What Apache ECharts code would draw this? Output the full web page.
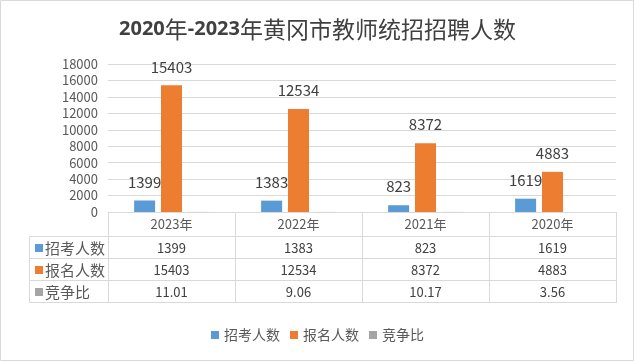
<!DOCTYPE html>
<html><head><meta charset="utf-8">
<script src="https://cdn.jsdelivr.net/npm/echarts@6/dist/echarts.min.js"></script>
<style>html,body{margin:0;padding:0;background:#fff}#c{width:635px;height:362px}</style>
</head><body><div id="c"></div>
<script>
const categories = ['2023年', '2022年', '2021年', '2020年'];
const recruitCount = [1399, 1383, 823, 1619];
const applicantCount = [15403, 12534, 8372, 4883];
const competitionRatio = [11.01, 9.06, 10.17, 3.56];
const seriesNames = ['招考人数', '报名人数', '竞争比'];
const colors = ['#5b9bd5', '#ed7d31', '#a5a5a5'];

const FONT = '"Noto Sans CJK SC", "Noto Sans", sans-serif';
const gridC = '#d9d9d9';
const rowY = [248, 270, 292];
const rowLines = [236.5, 258.5, 280.5, 302.5];
const tableLeft = 29.5, tableRight = 616.5;

function tableAxis(values, margin) {
  return {
    type: 'category', gridIndex: 0, position: 'bottom', data: values,
    axisLine: {show: false}, axisTick: {show: false}, splitLine: {show: false},
    axisLabel: {interval: 0, margin: margin, verticalAlign: 'middle', color: '#404040', fontSize: 13, fontFamily: FONT}
  };
}

const graphics = [
  {type: 'rect', shape: {x: 0.5, y: 0.5, width: 633, height: 360}, style: {fill: 'none', stroke: gridC, lineWidth: 1}, silent: true}
];
rowLines.forEach(y => graphics.push({type: 'line', shape: {x1: tableLeft, y1: y, x2: tableRight, y2: y}, style: {stroke: gridC, lineWidth: 1}, silent: true}));
graphics.push({type: 'line', shape: {x1: tableLeft, y1: rowLines[0], x2: tableLeft, y2: rowLines[3]}, style: {stroke: gridC, lineWidth: 1}, silent: true});
seriesNames.forEach((n, i) => {
  graphics.push({type: 'rect', shape: {x: 35, y: rowY[i] - 4, width: 8, height: 8}, style: {fill: colors[i]}, silent: true});
  graphics.push({type: 'text', x: 45, y: rowY[i], style: {text: n, fill: '#595959', font: '15px ' + FONT, textVerticalAlign: 'middle'}, silent: true});
});

const chart = echarts.init(document.getElementById('c'));
chart.setOption({
  animation: false,
  color: colors,
  title: {text: '{b|2020}{n|年}{b|-2023}{n|年黄冈市教师统招招聘人数}', left: 'center', top: 13,
    textStyle: {color: '#404040', fontFamily: FONT,
      rich: {
        b: {fontSize: 20, fontWeight: 'bold', color: '#404040', fontFamily: '"Noto Sans", sans-serif'},
        n: {fontSize: 23, fontWeight: 'normal', color: '#404040', fontFamily: FONT}
      }}},
  legend: {bottom: 15, left: 'center', icon: 'rect', itemWidth: 8, itemHeight: 8, itemGap: 10,
    textStyle: {fontSize: 14, color: '#595959', fontFamily: FONT}, data: seriesNames},
  grid: {left: 108, right: 19, top: 64, bottom: 150, containLabel: false},
  xAxis: [
    {type: 'category', data: categories, position: 'bottom',
      axisLine: {show: true, lineStyle: {color: gridC}},
      axisTick: {show: true, length: 91, lineStyle: {color: gridC}},
      axisLabel: {interval: 0, margin: 12, verticalAlign: 'middle', color: '#595959', fontSize: 13, fontFamily: FONT}},
    tableAxis(recruitCount.map(String), 36),
    tableAxis(applicantCount.map(String), 58),
    tableAxis(competitionRatio.map(v => v.toFixed(2)), 80)
  ],
  yAxis: {type: 'value', min: 0, max: 18000, interval: 2000,
    axisLine: {show: false}, axisTick: {show: false},
    splitLine: {lineStyle: {color: gridC}},
    axisLabel: {color: '#595959', fontSize: 13, margin: 10, fontFamily: FONT, formatter: v => String(v)}},
  series: [
    {name: seriesNames[0], type: 'bar', xAxisIndex: 0, data: recruitCount, barWidth: 21, barGap: '28%',
      label: {show: true, position: 'top', distance: 11, color: '#404040', fontSize: 15, fontFamily: FONT}},
    {name: seriesNames[1], type: 'bar', xAxisIndex: 0, data: applicantCount, barWidth: 21, barGap: '28%',
      label: {show: true, position: 'top', distance: 11, color: '#404040', fontSize: 15, fontFamily: FONT}},
    {name: seriesNames[2], type: 'bar', xAxisIndex: 0, data: competitionRatio, barWidth: 21, barGap: '28%'}
  ],
  graphic: graphics
});
</script></body></html>
